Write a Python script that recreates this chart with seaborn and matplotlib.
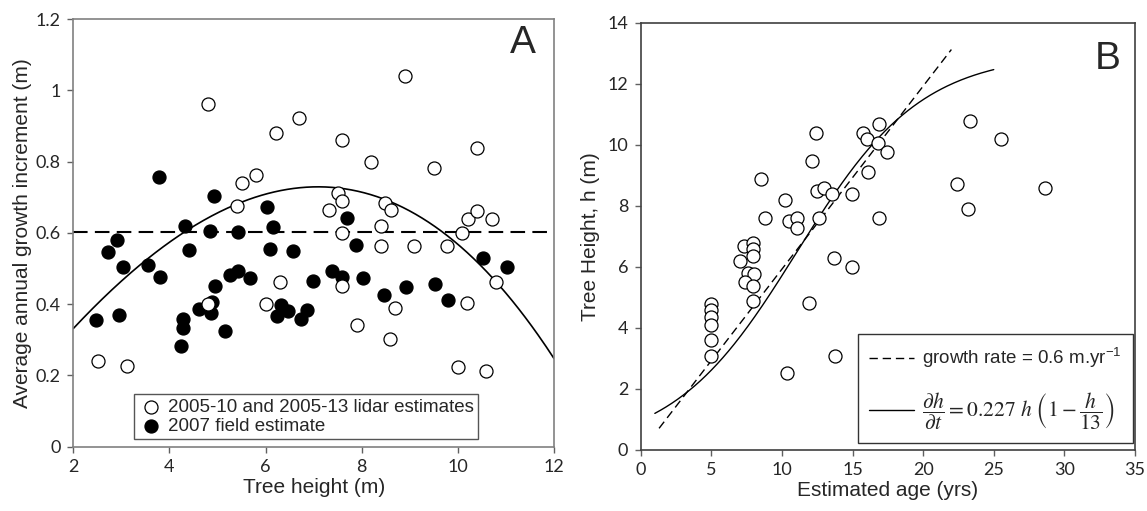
import numpy as np
import pandas as pd
import matplotlib
matplotlib.use("Agg")
import matplotlib.pyplot as plt
import seaborn as sns

# ---------------- Panel A data: growth increment vs tree height ----------------
lidar_height = [2.51, 3.11, 4.81, 4.81, 5.40, 5.50, 5.80, 6.00, 6.21, 6.30, 6.70,
                7.32, 7.51, 7.60, 7.60, 7.60, 7.60, 7.90, 8.19, 8.40, 8.40, 8.48,
                8.58, 8.60, 8.70, 8.90, 9.09, 9.50, 9.78, 10.00, 10.09, 10.20,
                10.21, 10.40, 10.40, 10.59, 10.70, 10.80]
lidar_growth = [0.241, 0.226, 0.961, 0.400, 0.676, 0.741, 0.762, 0.400, 0.881, 0.461, 0.921,
                0.664, 0.713, 0.688, 0.601, 0.451, 0.861, 0.341, 0.800, 0.620, 0.563, 0.683,
                0.302, 0.664, 0.388, 1.040, 0.563, 0.781, 0.563, 0.224, 0.601, 0.402,
                0.639, 0.839, 0.662, 0.213, 0.639, 0.463]

field_height = [2.47, 2.72, 2.91, 2.96, 3.03, 3.56, 3.78, 3.80, 4.25, 4.29, 4.29, 4.32,
                4.41, 4.62, 4.84, 4.86, 4.88, 4.92, 4.95, 5.15, 5.27, 5.42, 5.43, 5.67,
                6.04, 6.09, 6.16, 6.23, 6.33, 6.47, 6.57, 6.73, 6.87, 6.98, 7.38, 7.59,
                7.70, 7.88, 8.03, 8.46, 8.93, 9.52, 9.80, 10.52, 11.03]
field_growth = [0.356, 0.545, 0.581, 0.370, 0.505, 0.510, 0.756, 0.477, 0.283, 0.357, 0.334, 0.618,
                0.553, 0.386, 0.604, 0.374, 0.407, 0.703, 0.451, 0.325, 0.482, 0.602, 0.494, 0.474,
                0.673, 0.555, 0.616, 0.367, 0.398, 0.382, 0.550, 0.357, 0.384, 0.466, 0.494, 0.477,
                0.641, 0.565, 0.474, 0.426, 0.447, 0.456, 0.412, 0.529, 0.503]

mean_growth = 0.603                                  # horizontal reference line
poly_center = 7.0                                    # cubic fit in (height - center)
poly_coef = [0.729, 0.00322, -0.01758, -0.000465]    # c0 + c1 u + c2 u^2 + c3 u^3

# ---------------- Panel B data: tree height vs estimated age ----------------
age = [4.98, 4.98, 4.98, 4.98, 4.98, 4.98, 7.31, 7.97, 7.97, 7.97, 7.03, 7.62, 8.02,
       7.38, 7.97, 7.97, 8.51, 8.80, 10.21, 10.50, 11.04, 11.04, 12.10, 12.38, 12.46,
       12.97, 13.52, 12.64, 14.93, 13.68, 14.93, 11.93, 13.75, 10.38, 15.76, 16.02,
       16.82, 17.45, 16.13, 16.88, 16.86, 25.48, 22.41, 23.19, 23.30, 28.66]
height = [4.79, 4.59, 4.37, 4.10, 3.61, 3.09, 6.70, 6.78, 6.58, 6.36, 6.20, 5.79, 5.77,
          5.50, 5.39, 4.90, 8.89, 7.60, 8.20, 7.51, 7.60, 7.29, 9.49, 10.38, 8.49,
          8.58, 8.39, 7.60, 8.40, 6.31, 5.99, 4.81, 3.09, 2.51, 10.38, 10.19,
          10.07, 9.78, 9.10, 7.60, 10.69, 10.19, 8.71, 7.90, 10.79, 8.60]

rate_linear = 0.6          # m per year
linear_intercept = -0.07
linear_age_range = [1.3, 22.0]

logistic_r = 0.227
logistic_K = 13.0
logistic_t0, logistic_h0 = 1.0, 1.2
logistic_age_range = [1.0, 25.0]

# ---------------- styling ----------------
sns.set_style("ticks")
plt.rcParams["font.family"] = ["Liberation Sans", "DejaVu Sans"]
tick_font = "Lato"

fig = plt.figure(figsize=(11.47, 5.11), dpi=100)
axA = fig.add_axes([0.0639, 0.1258, 0.4191, 0.8370])
axB = fig.add_axes([0.5586, 0.1194, 0.4309, 0.8356])

MS = 88
open_kw = dict(s=MS, facecolor="white", edgecolor="black", linewidth=0.9, zorder=3)
fill_kw = dict(s=MS, color="black", edgecolor="black", linewidth=0.9, zorder=3)

LABEL_FS = 15
TICK_FS = 13

# ---- Panel A ----
dfA_lidar = pd.DataFrame({"h": lidar_height, "g": lidar_growth})
dfA_field = pd.DataFrame({"h": field_height, "g": field_growth})

xs = np.linspace(2, 12, 300)
u = xs - poly_center
fit = sum(c * u ** i for i, c in enumerate(poly_coef))
sns.lineplot(x=xs, y=fit, ax=axA, color="black", linewidth=1.2, zorder=2)
axA.axhline(mean_growth, color="black", linewidth=1.5, dashes=(7, 3.5), zorder=2)

sns.scatterplot(data=dfA_field, x="h", y="g", ax=axA, label="2007 field estimate", **fill_kw)
sns.scatterplot(data=dfA_lidar, x="h", y="g", ax=axA,
                label="2005-10 and 2005-13 lidar estimates", **open_kw)

axA.set_xlim(2, 12)
axA.set_ylim(0, 1.2)
axA.set_xticks(range(2, 13, 2))
axA.set_yticks([0, 0.2, 0.4, 0.6, 0.8, 1.0, 1.2])
axA.set_yticklabels(["0", "0.2", "0.4", "0.6", "0.8", "1", "1.2"])
axA.set_xlabel("Tree height (m)", fontsize=LABEL_FS, labelpad=2)
axA.set_ylabel("Average annual growth increment (m)", fontsize=LABEL_FS, labelpad=3)
axA.text(0.935, 0.945, "A", transform=axA.transAxes, fontsize=28,
         ha="center", va="center")

hA, lA = axA.get_legend_handles_labels()
legA = axA.legend(hA[::-1], lA[::-1], loc="lower left", bbox_to_anchor=(0.126, 0.017),
                  fontsize=13.5, frameon=True, fancybox=False, edgecolor="#555555",
                  framealpha=1, borderpad=0.25, labelspacing=0.1, handletextpad=0.25,
                  handlelength=1.3, borderaxespad=0)
legA.get_frame().set_linewidth(1.0)

# ---- Panel B ----
dfB = pd.DataFrame({"age": age, "height": height})
t_lin = np.linspace(*linear_age_range, 50)
sns.lineplot(x=t_lin, y=rate_linear * t_lin + linear_intercept, ax=axB, color="black",
             linewidth=1.0, zorder=2)
axB.lines[-1].set_dashes((6, 3.5))
axB.lines[-1].set_label("growth rate = 0.6 m.yr$^{\\mathregular{-1}}$")

t_log = np.linspace(*logistic_age_range, 300)
A0 = (logistic_K / logistic_h0 - 1) * np.exp(logistic_r * logistic_t0)
h_log = logistic_K / (1 + A0 * np.exp(-logistic_r * t_log))
sns.lineplot(x=t_log, y=h_log, ax=axB, color="black", linewidth=1.0, zorder=2)
axB.lines[-1].set_label(r"$\dfrac{\partial h}{\partial t} = 0.227\ h\ \left(1 - \dfrac{h}{13}\right)$")

sns.scatterplot(data=dfB, x="age", y="height", ax=axB, legend=False, **open_kw)

axB.set_xlim(0, 35)
axB.set_ylim(0, 14)
axB.set_xticks(range(0, 36, 5))
axB.set_yticks(range(0, 15, 2))
axB.set_xlabel("Estimated age (yrs)", fontsize=LABEL_FS, labelpad=2)
axB.set_ylabel("Tree Height, h (m)", fontsize=LABEL_FS, labelpad=5)
axB.text(0.945, 0.915, "B", transform=axB.transAxes, fontsize=28,
         ha="center", va="center")

legB = axB.legend(handles=axB.lines[:2], loc="lower right", bbox_to_anchor=(0.996, 0.016),
                  fontsize=13.5, frameon=True, fancybox=False, edgecolor="#333333",
                  framealpha=1, borderpad=0.6, labelspacing=1.05, handletextpad=0.45,
                  handlelength=2.4, borderaxespad=0)
legB.get_frame().set_linewidth(1.0)
legB.get_texts()[1].set_math_fontfamily("stix")
legB.get_texts()[1].set_fontsize(15.5)

# ---- shared axis cosmetics ----
for ax, spine_col in ((axA, "#808080"), (axB, "#404040")):
    for side in ("top", "right", "left", "bottom"):
        ax.spines[side].set_visible(True)
        ax.spines[side].set_color(spine_col)
        ax.spines[side].set_linewidth(1.2)
    ax.tick_params(direction="out", length=4, width=1, color="#606060",
                   labelsize=TICK_FS, pad=5)
    for lbl in ax.get_xticklabels() + ax.get_yticklabels():
        lbl.set_fontfamily(tick_font)

fig.savefig("out.png", dpi=100)
